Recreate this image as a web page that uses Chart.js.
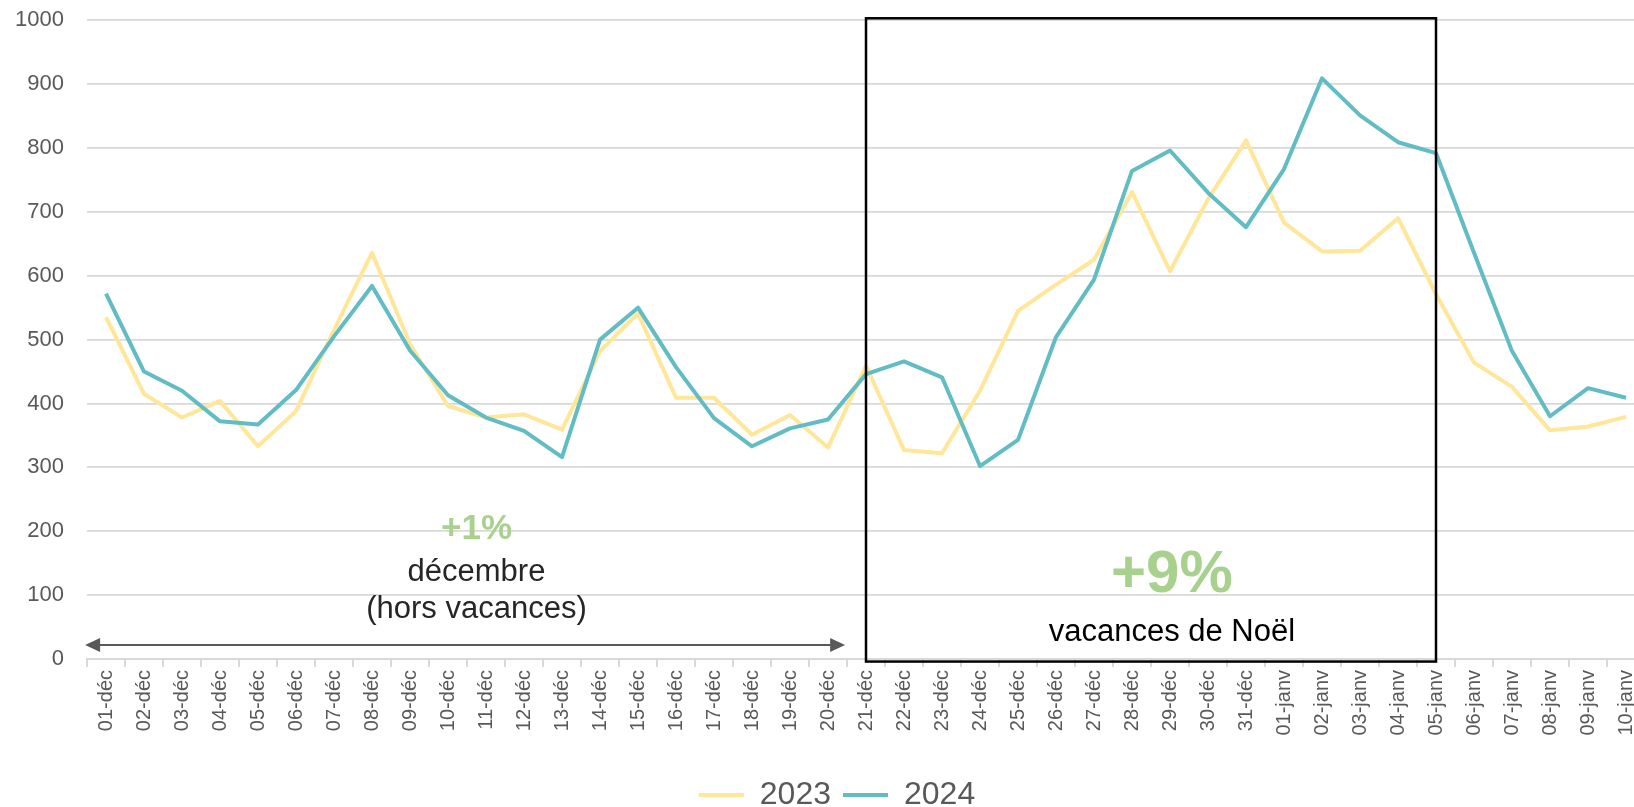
<!DOCTYPE html>
<html>
<head>
<meta charset="utf-8">
<script src="https://cdn.jsdelivr.net/npm/chart.js@4.4.1/dist/chart.umd.min.js"></script>
<style>
  html, body { margin: 0; padding: 0; background: #fff; overflow: hidden; width: 1634px; height: 807px; }
  #wrap { position: absolute; left: 0; top: -16px; width: 1661px; height: 837px; }
</style>
</head>
<body>
<div id="wrap"><canvas id="myChart"></canvas></div>
<script>
const labels = [
    '01-déc', '02-déc', '03-déc', '04-déc', '05-déc', '06-déc', '07-déc', '08-déc', '09-déc', '10-déc',
    '11-déc', '12-déc', '13-déc', '14-déc', '15-déc', '16-déc', '17-déc', '18-déc', '19-déc', '20-déc',
    '21-déc', '22-déc', '23-déc', '24-déc', '25-déc', '26-déc', '27-déc', '28-déc', '29-déc', '30-déc',
    '31-déc', '01-janv', '02-janv', '03-janv', '04-janv', '05-janv', '06-janv', '07-janv', '08-janv',
    '09-janv', '10-janv'
];
const values2023 = [535, 415, 378, 404, 333, 388, 515, 636, 493, 396, 378, 383, 359, 482, 541, 409, 409, 351, 382, 331,
    459, 327, 322, 420, 545, 586, 625, 731, 607, 720, 812, 683, 638, 639, 690, 571, 464, 426, 358, 364, 379];
const values2024 = [572, 450, 420, 372, 367, 421, 505, 584, 483, 413, 378, 357, 316, 500, 550, 457, 377, 333, 361, 375,
    446, 466, 441, 302, 343, 504, 594, 764, 796, 730, 676, 767, 909, 851, 809, 792, 636, 482, 380, 424, 409];
const yMin = 0;
const yMax = 1000;
const yStep = 100;

Chart.defaults.font.family = "'Liberation Sans', Arial, sans-serif";

// box, arrow and text notes on top of the lines
const notes = {
    id: 'notes',
    afterDatasetsDraw(chart) {
        const { ctx, scales: { x, y } } = chart;
        ctx.save();

        // vacances de Noël box
        const bx1 = x.getPixelForValue(20), bx2 = x.getPixelForValue(35);
        const by1 = y.getPixelForValue(1003), by2 = y.getPixelForValue(-4);
        ctx.strokeStyle = '#000';
        ctx.lineWidth = 2.5;
        ctx.strokeRect(bx1, by1, bx2 - bx1, by2 - by1);

        // double arrow for december
        const ay = y.getPixelForValue(22);
        const ax1 = x.getPixelForValue(-0.55), ax2 = x.getPixelForValue(19.45);
        ctx.strokeStyle = '#595959';
        ctx.fillStyle = '#595959';
        ctx.lineWidth = 2;
        ctx.beginPath();
        ctx.moveTo(ax1 + 10, ay);
        ctx.lineTo(ax2 - 10, ay);
        ctx.stroke();
        ctx.beginPath();
        ctx.moveTo(ax1, ay);
        ctx.lineTo(ax1 + 15, ay - 7);
        ctx.lineTo(ax1 + 15, ay + 7);
        ctx.closePath();
        ctx.fill();
        ctx.beginPath();
        ctx.moveTo(ax2, ay);
        ctx.lineTo(ax2 - 15, ay - 7);
        ctx.lineTo(ax2 - 15, ay + 7);
        ctx.closePath();
        ctx.fill();

        ctx.textAlign = 'center';
        ctx.textBaseline = 'middle';
        const fam = "'Liberation Sans', Arial, sans-serif";

        ctx.fillStyle = '#A9D18E';
        ctx.font = 'bold 35px ' + fam;
        ctx.fillText('+1%', x.getPixelForValue(9.75), y.getPixelForValue(203));
        ctx.font = 'bold 60px ' + fam;
        ctx.fillText('+9%', x.getPixelForValue(28.05), y.getPixelForValue(131));

        ctx.font = '31px ' + fam;
        ctx.fillStyle = '#262626';
        ctx.fillText('décembre', x.getPixelForValue(9.75), y.getPixelForValue(136));
        ctx.fillText('(hors vacances)', x.getPixelForValue(9.75), y.getPixelForValue(77));
        ctx.fillStyle = '#000';
        ctx.fillText('vacances de Noël', x.getPixelForValue(28.05), y.getPixelForValue(42));

        ctx.restore();
    }
};

const ctx = document.getElementById('myChart').getContext('2d');
const myChart = new Chart(ctx, {
    type: 'line',
    data: {
        labels: labels,
        datasets: [{
            label: '2023',
            data: values2023,
            borderColor: '#FFE699',
            backgroundColor: '#FFE699',
            borderWidth: 4,
            pointRadius: 0,
            tension: 0,
            borderJoinStyle: 'round',
            fill: false,
            order: 2
        }, {
            label: '2024',
            data: values2024,
            borderColor: '#62BCC4',
            backgroundColor: '#62BCC4',
            borderWidth: 4,
            pointRadius: 0,
            tension: 0,
            borderJoinStyle: 'round',
            fill: false,
            order: 1
        }]
    },
    options: {
        responsive: true,
        maintainAspectRatio: false,
        animation: false,
        layout: { padding: { top: 7, left: 13, right: 0, bottom: 0 } },
        plugins: {
            tooltip: { enabled: false },
            legend: {
                position: 'bottom',
                labels: {
                    boxWidth: 45,
                    boxHeight: 4,
                    padding: 12,
                    color: '#595959',
                    font: { size: 32 },
                    sort: (a, b) => a.datasetIndex - b.datasetIndex,
                    generateLabels: (chart) => Chart.defaults.plugins.legend.labels.generateLabels(chart)
                        .map(l => ({ ...l, lineWidth: 0 }))
                }
            }
        },
        scales: {
            x: {
                offset: true,
                afterFit: (scale) => { scale.height = 108; },
                grid: {
                    display: true,
                    drawOnChartArea: false,
                    drawTicks: true,
                    tickLength: 8,
                    offset: true,
                    color: '#D9D9D9',
                    lineWidth: 2
                },
                border: { display: true, color: '#D9D9D9', width: 2 },
                ticks: {
                    autoSkip: false,
                    maxRotation: 90,
                    minRotation: 90,
                    padding: 3,
                    color: '#595959',
                    font: { size: 20 }
                }
            },
            y: {
                min: yMin,
                max: yMax,
                afterFit: (scale) => { scale.width = 74; },
                grid: { color: '#D9D9D9', lineWidth: 1.75, drawTicks: false },
                border: { display: false },
                ticks: {
                    stepSize: yStep,
                    padding: 23,
                    color: '#595959',
                    font: { size: 22 },
                    callback: (v) => String(v)
                }
            },
            // empty right-hand spacer so the legend sits where it does in the original
            yRight: {
                position: 'right',
                afterFit: (scale) => { scale.width = 16; },
                grid: { display: false },
                border: { display: false },
                ticks: { display: false }
            }
        }
    },
    plugins: [notes]
});
</script>
</body>
</html>
